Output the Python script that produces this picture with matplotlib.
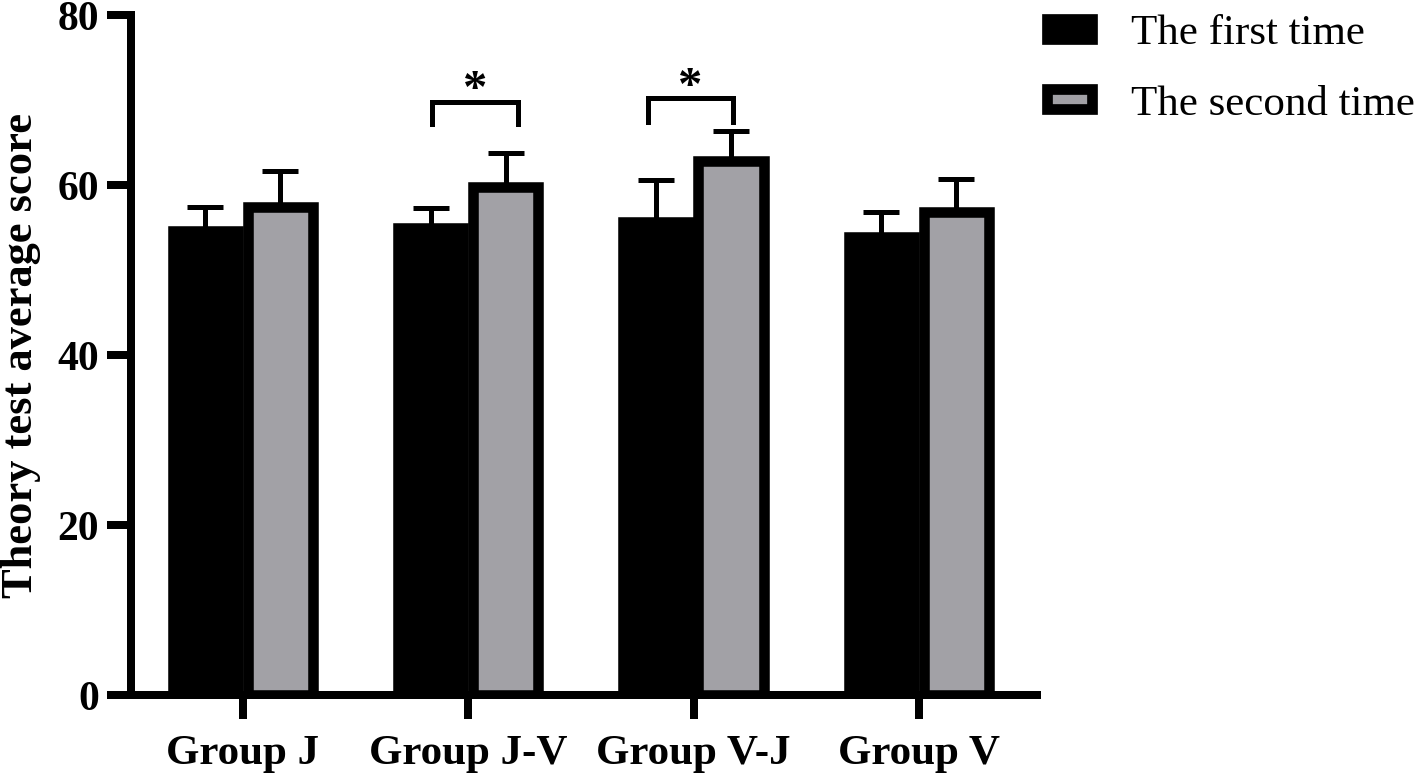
import numpy as np
import matplotlib
matplotlib.use("Agg")
import matplotlib.pyplot as plt
from matplotlib.patches import Patch

groups = ["Group J", "Group J-V", "Group V-J", "Group V"]
first_time = [54.6, 54.9, 55.6, 53.9]
first_sd = [2.8, 2.4, 5.0, 2.9]
second_time = [57.4, 59.8, 62.8, 56.8]
second_sd = [4.2, 4.0, 3.6, 3.9]
# significance brackets: group index, left/right leg offset, top, leg bottom
sig_group = [1, 2]
sig_left = [-0.16, -0.204]
sig_right = [0.222, 0.173]
sig_top = [69.8, 70.2]
sig_bottom = [67.2, 67.4]

plt.rcParams['font.family'] = ['Liberation Serif', 'DejaVu Serif']
grey = '#a2a1a6'
lw_bar = 7.6
px = 72 / 100.0

fig = plt.figure(figsize=(14.16, 7.77), dpi=100)
ax = fig.add_axes([131 / 1416, 82 / 777, (1037 - 131) / 1416, 680 / 777])

x = np.arange(len(groups))
w = 0.29
off = 0.1665

ax.errorbar(x - off, first_time, yerr=[np.zeros(4), first_sd], fmt='none',
            ecolor='black', elinewidth=5 * px, capsize=13.3, capthick=5 * px, zorder=1)
ax.errorbar(x + off, second_time, yerr=[np.zeros(4), second_sd], fmt='none',
            ecolor='black', elinewidth=5 * px, capsize=13.3, capthick=5 * px, zorder=1)
ax.bar(x - off, first_time, w, color='black', edgecolor='black', linewidth=lw_bar, zorder=2)
ax.bar(x + off, second_time, w, color=grey, edgecolor='black', linewidth=lw_bar, zorder=2)

for i, l, r, top, bottom in zip(sig_group, sig_left, sig_right, sig_top, sig_bottom):
    ax.plot([i + l, i + l, i + r, i + r], [bottom, top, top, bottom],
            color='black', lw=5 * px, solid_joinstyle='miter', zorder=3)
    ax.text(i + (l + r) / 2, top - 0.2, '*', ha='center', va='baseline',
            fontsize=35, fontweight='bold')

ax.set_xlim(-0.497, 3.524)
ax.set_ylim(0, 80)
ax.set_yticks([0, 20, 40, 60, 80])
ax.set_xticks(x)
ax.set_xticklabels(groups)
for s in ['top', 'right']:
    ax.spines[s].set_visible(False)
for s in ['left', 'bottom']:
    ax.spines[s].set_linewidth(8 * px)
ax.tick_params(axis='both', length=17, width=8 * px)
ax.tick_params(axis='y', pad=6, labelsize=30)
ax.tick_params(axis='x', pad=12, labelsize=31)
for lab in ax.get_xticklabels() + ax.get_yticklabels():
    lab.set_fontweight('bold')
ax.set_ylabel('Theory test average score', fontsize=32, fontweight='bold', labelpad=12)

handles = [Patch(facecolor='black', edgecolor='black', linewidth=7.7),
           Patch(facecolor=grey, edgecolor='black', linewidth=7.7)]
fig.legend(handles, ['The first time', 'The second time'], loc='upper left',
           bbox_to_anchor=(1047 / 1416, 1 - 15 / 777), frameon=False, fontsize=31,
           handlelength=1.05, handleheight=0.34, handletextpad=0.9,
           labelspacing=0.74, borderpad=0, borderaxespad=0)

fig.savefig('out.png', dpi=100)
